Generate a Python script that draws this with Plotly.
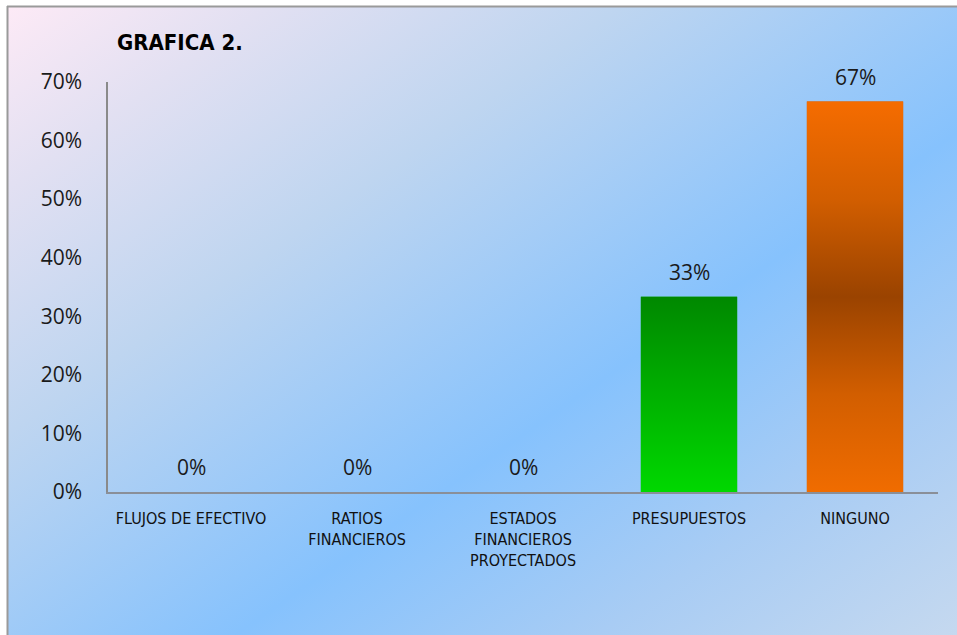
import base64
import plotly.graph_objects as go

# Survey results: share of respondents per financial tool
categories = ["FLUJOS DE EFECTIVO", "RATIOS<br>FINANCIEROS",
              "ESTADOS<br>FINANCIEROS<br>PROYECTADOS", "PRESUPUESTOS", "NINGUNO"]
shares = [0.0, 0.0, 0.0, 1 / 3, 2 / 3]
bar_colors = ["#00c000", "#00c000", "#00c000", "#00b800", "#cc5a00"]
gradient_scales = [
    None, None, None,
    [[0, "#00d800"], [1, "#008800"]],
    [[0, "#f06c00"], [0.25, "#d25e00"], [0.5, "#9a4300"], [0.75, "#d25e00"], [1, "#f56c00"]],
]
y_ticks = [0, 0.1, 0.2, 0.3, 0.4, 0.5, 0.6, 0.7]

W, H = 957, 635
ML, MR, MT, MB = 108, 19, 82, 143
BAR_W = 0.58
NARROW = "DejaVu Sans Condensed, Liberation Sans, sans-serif"

# Page background: framed diagonal pink-to-blue gradient
svg = f"""<svg xmlns='http://www.w3.org/2000/svg' width='{W}' height='{H}' viewBox='0 0 {W} {H}' preserveAspectRatio='none'>
<defs><linearGradient id='g' gradientUnits='userSpaceOnUse' x1='8' y1='6' x2='616' y2='880'>
<stop offset='0' stop-color='#fdeaf6'/>
<stop offset='0.14' stop-color='#e2e0f2'/>
<stop offset='0.33' stop-color='#bed5f0'/>
<stop offset='0.607' stop-color='#86c2fd'/>
<stop offset='0.8' stop-color='#a8ccf4'/>
<stop offset='1' stop-color='#c6d9ef'/>
</linearGradient></defs>
<rect x='0' y='0' width='{W}' height='{H}' fill='#ffffff'/>
<rect x='8' y='6' width='{W + 20}' height='{H + 20}' fill='url(#g)'/>
<line x1='7.5' y1='6' x2='7.5' y2='{H + 20}' stroke='#9a9a9a' stroke-width='2'/>
<line x1='7' y1='6.5' x2='{W + 20}' y2='6.5' stroke='#9a9a9a' stroke-width='2'/>
</svg>"""
bg_uri = "data:image/svg+xml;base64," + base64.b64encode(svg.encode()).decode()

x_idx = list(range(len(categories)))
labels = [f"{round(v * 100):.0f}%" for v in shares]

fig = go.Figure()
fig.add_trace(go.Bar(
    x=x_idx, y=shares, width=BAR_W,
    marker=dict(color=bar_colors, line=dict(width=0)),
    hoverinfo="skip", showlegend=False,
))

# Shaded fill on top of the non-empty bars
for i, (v, scale) in enumerate(zip(shares, gradient_scales)):
    if v <= 0 or scale is None:
        continue
    x0, x1 = i - BAR_W / 2, i + BAR_W / 2
    fig.add_trace(go.Scatter(
        x=[x0, x0, x1, x1, x0], y=[0, v, v, 0, 0],
        mode="lines", line=dict(width=0), fill="toself",
        fillgradient=dict(type="vertical", colorscale=scale, start=0, stop=v),
        hoverinfo="skip", showlegend=False,
    ))

# Value labels above each bar
for i, (v, t) in enumerate(zip(shares, labels)):
    fig.add_annotation(x=i, y=v, text=t, showarrow=False, yanchor="middle",
                       yshift=25, font=dict(family="Open Sans", size=21, color="#1a1a1a"))

fig.add_layout_image(dict(
    source=bg_uri, xref="paper", yref="paper",
    x=-ML / (W - ML - MR), y=1 + MT / (H - MT - MB),
    sizex=W / (W - ML - MR), sizey=H / (H - MT - MB),
    xanchor="left", yanchor="top", sizing="stretch", layer="below",
))

fig.update_layout(
    width=W, height=H,
    margin=dict(l=ML, r=MR, t=MT, b=MB, pad=0),
    paper_bgcolor="rgba(0,0,0,0)", plot_bgcolor="rgba(0,0,0,0)",
    title=dict(text="<b>GRAFICA 2.</b>", xref="container", yref="container",
               x=117 / W, y=1 - 42 / H, xanchor="left", yanchor="middle",
               font=dict(family=NARROW, size=22, color="#000000")),
    xaxis=dict(range=[-0.5, len(categories) - 0.5], tickvals=x_idx, ticktext=categories,
               showgrid=False, zeroline=False, showline=True, linecolor="#8a8f98",
               linewidth=2, ticks="", ticklabelstandoff=11,
               tickfont=dict(family=NARROW, size=16, color="#111111")),
    yaxis=dict(range=[0, 0.7], tickvals=y_ticks, tickformat=".0%",
               showgrid=False, zeroline=False, showline=True, linecolor="#8a8a8a",
               linewidth=1.5, ticks="", ticklabelstandoff=20,
               tickfont=dict(family="Open Sans", size=21, color="#1a1a1a")),
    bargap=0.42,
)

fig.write_html("out.html")
